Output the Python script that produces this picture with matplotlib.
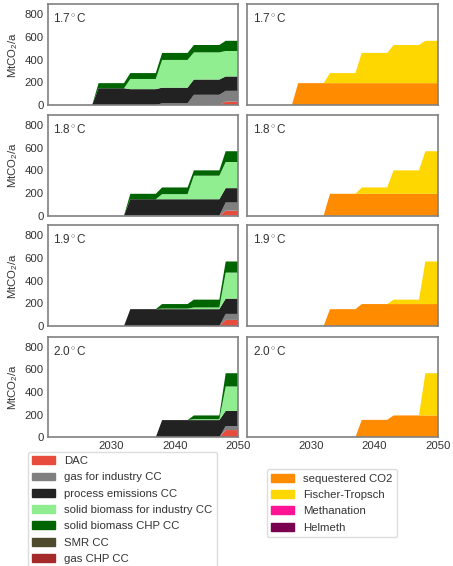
import matplotlib
matplotlib.use('Agg')
import matplotlib.pyplot as plt
from matplotlib.patches import Patch

# ----------------------------------------------------------
# data (MtCO2/a), one list per scenario
# ----------------------------------------------------------
years = [2020, 2027, 2028, 2032, 2033, 2037, 2038, 2042, 2043, 2047, 2048, 2050]
scenarios = ['1.7', '1.8', '1.9', '2.0']

dac = {
    '1.7': [0, 0, 0, 0, 0, 0, 0, 0, 0, 0, 30, 30],
    '1.8': [0, 0, 0, 0, 0, 0, 0, 0, 0, 0, 44, 44],
    '1.9': [0, 0, 0, 0, 0, 0, 0, 0, 0, 0, 54, 54],
    '2.0': [0, 0, 0, 0, 0, 0, 0, 0, 0, 0, 64, 64],
}
gas_industry = {
    '1.7': [0, 0, 0, 0, 0, 0, 15, 15, 90, 90, 95, 95],
    '1.8': [0, 0, 0, 0, 0, 0, 0, 0, 0, 0, 72, 72],
    '1.9': [0, 0, 0, 0, 0, 0, 0, 0, 0, 0, 53, 53],
    '2.0': [0, 0, 0, 0, 0, 0, 0, 0, 0, 0, 35, 35],
}
process = {
    '1.7': [0, 0, 148, 148, 140, 140, 138, 138, 135, 135, 127, 127],
    '1.8': [0, 0, 0, 0, 145, 145, 145, 145, 145, 145, 127, 127],
    '1.9': [0, 0, 0, 0, 149, 149, 149, 149, 149, 149, 135, 135],
    '2.0': [0, 0, 0, 0, 0, 0, 152, 152, 152, 152, 134, 134],
}
biomass_industry = {
    '1.7': [0, 0, 0, 0, 90, 90, 245, 245, 240, 240, 225, 225],
    '1.8': [0, 0, 0, 0, 0, 0, 45, 45, 208, 208, 231, 231],
    '1.9': [0, 0, 0, 0, 0, 0, 5, 5, 15, 15, 230, 230],
    '2.0': [0, 0, 0, 0, 0, 0, 0, 0, 8, 8, 216, 216],
}
biomass_chp = {
    '1.7': [0, 0, 45, 45, 52, 52, 62, 62, 65, 65, 90, 90],
    '1.8': [0, 0, 0, 0, 48, 48, 59, 59, 47, 47, 95, 95],
    '1.9': [0, 0, 0, 0, 0, 0, 40, 40, 69, 69, 98, 98],
    '2.0': [0, 0, 0, 0, 0, 0, 0, 0, 33, 33, 117, 117],
}
sequestered = {
    '1.7': [0, 0, 193, 193, 193, 193, 193, 193, 193, 193, 193, 193],
    '1.8': [0, 0, 0, 0, 193, 193, 193, 193, 193, 193, 193, 193],
    '1.9': [0, 0, 0, 0, 149, 149, 194, 194, 194, 194, 194, 194],
    '2.0': [0, 0, 0, 0, 0, 0, 154, 154, 193, 193, 193, 193],
}
fischer_tropsch = {
    '1.7': [0, 0, 0, 0, 89, 89, 267, 267, 337, 337, 374, 374],
    '1.8': [0, 0, 0, 0, 0, 0, 56, 56, 207, 207, 376, 376],
    '1.9': [0, 0, 0, 0, 0, 0, 0, 0, 39, 39, 376, 376],
    '2.0': [0, 0, 0, 0, 0, 0, 0, 0, 0, 0, 373, 373],
}

left_labels = ['DAC', 'gas for industry CC', 'process emissions CC',
               'solid biomass for industry CC', 'solid biomass CHP CC',
               'SMR CC', 'gas CHP CC']
left_colors = ['#e74c3c', '#808080', '#222222', '#90ee90', '#006400',
               '#4d4b2b', '#a52a2a']
right_labels = ['sequestered CO2', 'Fischer-Tropsch', 'Methanation', 'Helmeth']
right_colors = ['#ff8c00', '#ffd700', '#ff1493', '#7a0050']

# ----------------------------------------------------------
# plot
# ----------------------------------------------------------
plt.rcParams['font.family'] = ['Liberation Sans', 'DejaVu Sans']
plt.rcParams['mathtext.fontset'] = 'custom'
plt.rcParams['mathtext.rm'] = 'Liberation Sans'
plt.rcParams['mathtext.it'] = 'Liberation Sans:italic'
fs = 8.2
tcol = '#333333'

fig = plt.figure(figsize=(4.53, 5.66), dpi=100)
lefts = [0.1053, 0.546]
bottoms = [0.8145, 0.619, 0.424, 0.2274]
w, h = 0.421, 0.178

for i, s in enumerate(scenarios):
	for j in range(2):
		ax = fig.add_axes([lefts[j], bottoms[i], w, h])
		if j == 0:
			ax.stackplot(years, dac[s], gas_industry[s], process[s],
			             biomass_industry[s], biomass_chp[s],
			             colors=left_colors[:5], linewidth=0)
			ax.set_ylabel(r'MtCO$_2$/a', fontsize=fs, color=tcol, labelpad=3)
		else:
			ax.stackplot(years, sequestered[s], fischer_tropsch[s],
			             colors=right_colors[:2], linewidth=0)
		ax.set_xlim(2020, 2050)
		ax.set_ylim(0, 890)
		ax.set_yticks([0, 200, 400, 600, 800])
		ax.set_xticks([2030, 2040, 2050])
		ax.tick_params(length=0, pad=3, labelsize=fs, labelcolor=tcol)
		if j == 1:
			ax.set_yticklabels([])
		if i < 3:
			ax.set_xticklabels([])
		for sp in ax.spines.values():
			sp.set_color('#808080')
			sp.set_linewidth(1.2)
		ax.text(0.028, 0.92, s + r'$^\circ$C', transform=ax.transAxes,
		        fontsize=fs + 0.3, color=tcol, va='top', ha='left')

# legends
lh = [Patch(color=c, label=l) for c, l in zip(left_colors, left_labels)]
rh = [Patch(color=c, label=l) for c, l in zip(right_colors, right_labels)]
for handles, anchor in [(lh, (0.061, 0.202)), (rh, (0.589, 0.171))]:
	leg = fig.legend(handles=handles, loc='upper left', bbox_to_anchor=anchor,
	                 borderaxespad=0, fontsize=fs, labelspacing=0.55,
	                 frameon=True, edgecolor='#dddddd', framealpha=1)
	for t in leg.get_texts():
		t.set_color(tcol)

plt.savefig('out.png', dpi=100)
